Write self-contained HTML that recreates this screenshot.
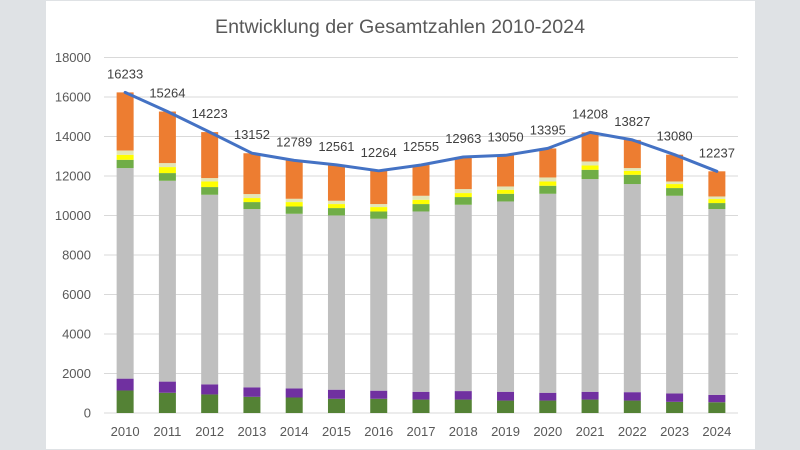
<!DOCTYPE html>
<html><head><meta charset="utf-8"><style>
html,body{margin:0;padding:0;background:#dfe2e5;}
svg{display:block;}
text{font-family:"Liberation Sans",sans-serif;}
</style></head><body>
<svg width="800" height="450" viewBox="0 0 800 450" xmlns="http://www.w3.org/2000/svg">
<rect x="0" y="0" width="800" height="450" fill="#dfe2e5"/>
<rect x="46" y="1" width="709" height="448" fill="#ffffff"/>
<text x="400" y="33" text-anchor="middle" font-size="19" fill="#595959" textLength="370" lengthAdjust="spacingAndGlyphs">Entwicklung der Gesamtzahlen 2010-2024</text>
<g stroke="#d9d9d9" stroke-width="1">
<line x1="104" x2="738" y1="413" y2="413"/>
<line x1="104" x2="738" y1="373.5" y2="373.5"/>
<line x1="104" x2="738" y1="334" y2="334"/>
<line x1="104" x2="738" y1="294.5" y2="294.5"/>
<line x1="104" x2="738" y1="255" y2="255"/>
<line x1="104" x2="738" y1="215.5" y2="215.5"/>
<line x1="104" x2="738" y1="176" y2="176"/>
<line x1="104" x2="738" y1="136.5" y2="136.5"/>
<line x1="104" x2="738" y1="97" y2="97"/>
<line x1="104" x2="738" y1="57.5" y2="57.5"/>
</g>
<g font-size="13" fill="#595959" text-anchor="end">
<text x="91" y="417.5">0</text>
<text x="91" y="378">2000</text>
<text x="91" y="338.5">4000</text>
<text x="91" y="299">6000</text>
<text x="91" y="259.5">8000</text>
<text x="91" y="220">10000</text>
<text x="91" y="180.5">12000</text>
<text x="91" y="141">14000</text>
<text x="91" y="101.5">16000</text>
<text x="91" y="62">18000</text>
</g>
<g transform="translate(0,413) scale(1,-0.01975)">
<g transform="translate(116.63,0)">
<rect width="17" y="0" height="1140" fill="#548235"/><rect width="17" y="1140" height="600" fill="#7030a0"/><rect width="17" y="1740" height="10661" fill="#bfbfbf"/><rect width="17" y="12401" height="420" fill="#70ad47"/><rect width="17" y="12821" height="254" fill="#ffff00"/><rect width="17" y="13075" height="217" fill="#e2e6b8"/><rect width="17" y="13292" height="2941" fill="#ed7d31"/></g>
<g transform="translate(158.9,0)">
<rect width="17" y="0" height="1025" fill="#548235"/><rect width="17" y="1025" height="565" fill="#7030a0"/><rect width="17" y="1590" height="10168" fill="#bfbfbf"/><rect width="17" y="11758" height="390" fill="#70ad47"/><rect width="17" y="12148" height="304" fill="#ffff00"/><rect width="17" y="12452" height="202" fill="#e2e6b8"/><rect width="17" y="12654" height="2610" fill="#ed7d31"/></g>
<g transform="translate(201.17,0)">
<rect width="17" y="0" height="940" fill="#548235"/><rect width="17" y="940" height="510" fill="#7030a0"/><rect width="17" y="1450" height="9600" fill="#bfbfbf"/><rect width="17" y="11050" height="390" fill="#70ad47"/><rect width="17" y="11440" height="283" fill="#ffff00"/><rect width="17" y="11723" height="172" fill="#e2e6b8"/><rect width="17" y="11895" height="2328" fill="#ed7d31"/></g>
<g transform="translate(243.43,0)">
<rect width="17" y="0" height="820" fill="#548235"/><rect width="17" y="820" height="480" fill="#7030a0"/><rect width="17" y="1300" height="9026" fill="#bfbfbf"/><rect width="17" y="10326" height="354" fill="#70ad47"/><rect width="17" y="10680" height="203" fill="#ffff00"/><rect width="17" y="10883" height="202" fill="#e2e6b8"/><rect width="17" y="11085" height="2067" fill="#ed7d31"/></g>
<g transform="translate(285.7,0)">
<rect width="17" y="0" height="785" fill="#548235"/><rect width="17" y="785" height="460" fill="#7030a0"/><rect width="17" y="1245" height="8843" fill="#bfbfbf"/><rect width="17" y="10088" height="369" fill="#70ad47"/><rect width="17" y="10457" height="223" fill="#ffff00"/><rect width="17" y="10680" height="167" fill="#e2e6b8"/><rect width="17" y="10847" height="1942" fill="#ed7d31"/></g>
<g transform="translate(327.97,0)">
<rect width="17" y="0" height="720" fill="#548235"/><rect width="17" y="720" height="460" fill="#7030a0"/><rect width="17" y="1180" height="8822" fill="#bfbfbf"/><rect width="17" y="10002" height="374" fill="#70ad47"/><rect width="17" y="10376" height="203" fill="#ffff00"/><rect width="17" y="10579" height="167" fill="#e2e6b8"/><rect width="17" y="10746" height="1815" fill="#ed7d31"/></g>
<g transform="translate(370.23,0)">
<rect width="17" y="0" height="720" fill="#548235"/><rect width="17" y="720" height="410" fill="#7030a0"/><rect width="17" y="1130" height="8705" fill="#bfbfbf"/><rect width="17" y="9835" height="369" fill="#70ad47"/><rect width="17" y="10204" height="223" fill="#ffff00"/><rect width="17" y="10427" height="152" fill="#e2e6b8"/><rect width="17" y="10579" height="1685" fill="#ed7d31"/></g>
<g transform="translate(412.5,0)">
<rect width="17" y="0" height="680" fill="#548235"/><rect width="17" y="680" height="395" fill="#7030a0"/><rect width="17" y="1075" height="9129" fill="#bfbfbf"/><rect width="17" y="10204" height="375" fill="#70ad47"/><rect width="17" y="10579" height="218" fill="#ffff00"/><rect width="17" y="10797" height="202" fill="#e2e6b8"/><rect width="17" y="10999" height="1556" fill="#ed7d31"/></g>
<g transform="translate(454.77,0)">
<rect width="17" y="0" height="680" fill="#548235"/><rect width="17" y="680" height="430" fill="#7030a0"/><rect width="17" y="1110" height="9434" fill="#bfbfbf"/><rect width="17" y="10544" height="389" fill="#70ad47"/><rect width="17" y="10933" height="203" fill="#ffff00"/><rect width="17" y="11136" height="202" fill="#e2e6b8"/><rect width="17" y="11338" height="1625" fill="#ed7d31"/></g>
<g transform="translate(497.03,0)">
<rect width="17" y="0" height="630" fill="#548235"/><rect width="17" y="630" height="445" fill="#7030a0"/><rect width="17" y="1075" height="9636" fill="#bfbfbf"/><rect width="17" y="10711" height="389" fill="#70ad47"/><rect width="17" y="11100" height="203" fill="#ffff00"/><rect width="17" y="11303" height="167" fill="#e2e6b8"/><rect width="17" y="11470" height="1580" fill="#ed7d31"/></g>
<g transform="translate(539.3,0)">
<rect width="17" y="0" height="630" fill="#548235"/><rect width="17" y="630" height="395" fill="#7030a0"/><rect width="17" y="1025" height="10075" fill="#bfbfbf"/><rect width="17" y="11100" height="406" fill="#70ad47"/><rect width="17" y="11506" height="217" fill="#ffff00"/><rect width="17" y="11723" height="203" fill="#e2e6b8"/><rect width="17" y="11926" height="1469" fill="#ed7d31"/></g>
<g transform="translate(581.57,0)">
<rect width="17" y="0" height="680" fill="#548235"/><rect width="17" y="680" height="395" fill="#7030a0"/><rect width="17" y="1075" height="10770" fill="#bfbfbf"/><rect width="17" y="11845" height="470" fill="#70ad47"/><rect width="17" y="12315" height="218" fill="#ffff00"/><rect width="17" y="12533" height="203" fill="#e2e6b8"/><rect width="17" y="12736" height="1472" fill="#ed7d31"/></g>
<g transform="translate(623.83,0)">
<rect width="17" y="0" height="630" fill="#548235"/><rect width="17" y="630" height="425" fill="#7030a0"/><rect width="17" y="1055" height="10537" fill="#bfbfbf"/><rect width="17" y="11592" height="470" fill="#70ad47"/><rect width="17" y="12062" height="202" fill="#ffff00"/><rect width="17" y="12264" height="137" fill="#e2e6b8"/><rect width="17" y="12401" height="1426" fill="#ed7d31"/></g>
<g transform="translate(666.1,0)">
<rect width="17" y="0" height="565" fill="#548235"/><rect width="17" y="565" height="425" fill="#7030a0"/><rect width="17" y="990" height="10009" fill="#bfbfbf"/><rect width="17" y="10999" height="390" fill="#70ad47"/><rect width="17" y="11389" height="203" fill="#ffff00"/><rect width="17" y="11592" height="131" fill="#e2e6b8"/><rect width="17" y="11723" height="1357" fill="#ed7d31"/></g>
<g transform="translate(708.37,0)">
<rect width="17" y="0" height="545" fill="#548235"/><rect width="17" y="545" height="375" fill="#7030a0"/><rect width="17" y="920" height="9406" fill="#bfbfbf"/><rect width="17" y="10326" height="304" fill="#70ad47"/><rect width="17" y="10630" height="202" fill="#ffff00"/><rect width="17" y="10832" height="132" fill="#e2e6b8"/><rect width="17" y="10964" height="1273" fill="#ed7d31"/></g>
</g>
<polyline fill="none" stroke="#4472c4" stroke-width="3" stroke-linejoin="round" stroke-linecap="round" points="125.13,92.4 167.4,111.5 209.67,132.1 251.93,153.2 294.2,160.4 336.47,164.9 378.73,170.8 421,165 463.27,157 505.53,155.3 547.8,148.4 590.07,132.4 632.33,139.9 674.6,154.7 716.87,171.3"/>
<g font-size="13" fill="#404040" text-anchor="middle">
<text x="125.13" y="78.4">16233</text>
<text x="167.4" y="97.5">15264</text>
<text x="209.67" y="118.1">14223</text>
<text x="251.93" y="139.2">13152</text>
<text x="294.2" y="146.4">12789</text>
<text x="336.47" y="150.9">12561</text>
<text x="378.73" y="156.8">12264</text>
<text x="421" y="151">12555</text>
<text x="463.27" y="143">12963</text>
<text x="505.53" y="141.3">13050</text>
<text x="547.8" y="134.4">13395</text>
<text x="590.07" y="118.4">14208</text>
<text x="632.33" y="125.9">13827</text>
<text x="674.6" y="140.7">13080</text>
<text x="716.87" y="157.3">12237</text>
</g>
<g font-size="13" fill="#595959" text-anchor="middle">
<text x="125.13" y="436">2010</text>
<text x="167.4" y="436">2011</text>
<text x="209.67" y="436">2012</text>
<text x="251.93" y="436">2013</text>
<text x="294.2" y="436">2014</text>
<text x="336.47" y="436">2015</text>
<text x="378.73" y="436">2016</text>
<text x="421" y="436">2017</text>
<text x="463.27" y="436">2018</text>
<text x="505.53" y="436">2019</text>
<text x="547.8" y="436">2020</text>
<text x="590.07" y="436">2021</text>
<text x="632.33" y="436">2022</text>
<text x="674.6" y="436">2023</text>
<text x="716.87" y="436">2024</text>
</g>
</svg>
</body></html>
